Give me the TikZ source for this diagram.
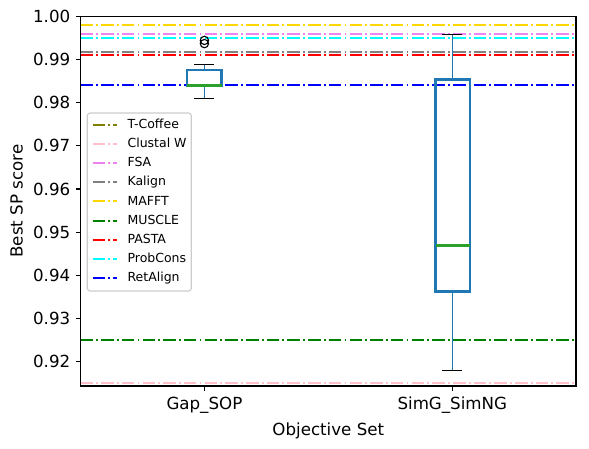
\documentclass[tikz,border=0pt]{standalone}
\usepackage{fontspec}
\setmainfont{DejaVu Sans}
\usepackage{tikz}

\definecolor{boxblue}{HTML}{1F77B4}
\definecolor{medgreen}{HTML}{2CA02C}
\definecolor{tcoffee}{HTML}{808000}
\definecolor{clustalw}{HTML}{FFC0CB}
\definecolor{fsa}{HTML}{EE82EE}
\definecolor{kalign}{HTML}{808080}
\definecolor{mafft}{HTML}{FFD700}
\definecolor{muscle}{HTML}{008000}
\definecolor{pasta}{HTML}{FF0000}
\definecolor{probcons}{HTML}{00FFFF}
\definecolor{retalign}{HTML}{0000FF}

\begin{document}
\begin{tikzpicture}[x=0.72pt, y=-0.72pt,
		ytick_label/.style={anchor=east,inner sep=0pt,font=\fontsize{12}{14}\selectfont},
		xtick_label/.style={anchor=north,inner sep=0pt,font=\fontsize{12}{14}\selectfont},
		axis_label/.style={anchor=base,inner sep=0pt,font=\fontsize{12}{14}\selectfont},
		legend_label/.style={anchor=base west,inner sep=0pt,font=\fontsize{9}{11}\selectfont},
		tick_style/.style={draw=black,line width=0.8pt},
		ref_style/.style={line width=1.3pt,dash pattern=on 9pt off 2.3pt on 1.3pt off 2.3pt},
		box_style/.style={draw=boxblue,line width=2pt},
		whisker_style/.style={draw=boxblue,line width=1pt},
		cap_style/.style={draw=black,line width=1pt},
		median_style/.style={draw=medgreen,line width=2pt},
		flier_style/.style={circle,draw=black,line width=0.8pt,minimum size=6pt,inner sep=0pt}]

		\useasboundingbox (0,0) rectangle (589,448);

		% reference lines of the other aligners
		\draw[ref_style,mafft]     (80.5,25)  -- (576,25);
		\draw[ref_style,fsa]       (80.5,34)  -- (576,34);
		\draw[ref_style,probcons]  (80.5,38)  -- (576,38);
		\draw[ref_style,kalign]    (80.5,52)  -- (576,52);
		\draw[ref_style,pasta]     (80.5,55)  -- (576,55);
		\draw[ref_style,retalign]  (80.5,85)  -- (576,85);
		\draw[ref_style,muscle]    (80.5,340) -- (576,340);
		\draw[ref_style,clustalw]  (80.5,383) -- (576,383);

		% box Gap_SOP
		\draw[whisker_style] (204.4,64.3) -- (204.4,70);
		\draw[whisker_style] (204.4,85.3) -- (204.4,98.3);
		\draw[cap_style] (194.4,64.3) -- (214.4,64.3);
		\draw[cap_style] (194.4,98.3) -- (214.4,98.3);
		\draw[box_style] (187,70) rectangle (221.8,85.3);
		\draw[median_style] (187,85.3) -- (221.8,85.3);
		\node[flier_style] (f0) at (204.4,40.4) {};
		\node[flier_style] (f1) at (204.4,43.6) {};

		% box SimG_SimNG
		\draw[whisker_style] (452.3,34.3) -- (452.3,79.3);
		\draw[whisker_style] (452.3,291.5) -- (452.3,370.4);
		\draw[cap_style] (442.3,34.3) -- (462.3,34.3);
		\draw[cap_style] (442.3,370.4) -- (462.3,370.4);
		\draw[box_style] (435.5,79.3) rectangle (469.9,291.5);
		\draw[median_style] (435.5,245.3) -- (469.9,245.3);

		% axes
		\draw[tick_style] (80.5,16.3) rectangle (576,386);

		\draw[tick_style] (75.6,16.3)  -- (80.5,16.3);
		\draw[tick_style] (75.6,59.5)  -- (80.5,59.5);
		\draw[tick_style] (75.6,102.6) -- (80.5,102.6);
		\draw[tick_style] (75.6,145.8) -- (80.5,145.8);
		\draw[tick_style] (75.6,189.0) -- (80.5,189.0);
		\draw[tick_style] (75.6,232.2) -- (80.5,232.2);
		\draw[tick_style] (75.6,275.3) -- (80.5,275.3);
		\draw[tick_style] (75.6,318.5) -- (80.5,318.5);
		\draw[tick_style] (75.6,361.7) -- (80.5,361.7);
		\draw[tick_style] (204.4,386) -- (204.4,390.9);
		\draw[tick_style] (452.3,386) -- (452.3,390.9);

		\node[ytick_label] (y0) at (70.5,16.3)  {1.00};
		\node[ytick_label] (y1) at (70.5,59.5)  {0.99};
		\node[ytick_label] (y2) at (70.5,102.6) {0.98};
		\node[ytick_label] (y3) at (70.5,145.8) {0.97};
		\node[ytick_label] (y4) at (70.5,189.0) {0.96};
		\node[ytick_label] (y5) at (70.5,232.2) {0.95};
		\node[ytick_label] (y6) at (70.5,275.3) {0.94};
		\node[ytick_label] (y7) at (70.5,318.5) {0.93};
		\node[ytick_label] (y8) at (70.5,361.7) {0.92};

		\node[xtick_label] (x0) at (204.4,397) {Gap\_SOP};
		\node[xtick_label] (x1) at (452.3,397) {SimG\_SimNG};

		\node[axis_label] (xlab) at (328.3,435) {Objective Set};
		\node[axis_label,rotate=90] (ylab) at (22.7,201.2) {Best SP score};

		% legend
		\draw[draw=black!20,fill=white,fill opacity=0.8,rounded corners=2pt,line width=0.8pt] (87.3,113) rectangle (191.3,291);
		\draw[ref_style,tcoffee]  (92.7,125) -- (117.3,125);
		\draw[ref_style,clustalw] (92.7,144) -- (117.3,144);
		\draw[ref_style,fsa]      (92.7,163) -- (117.3,163);
		\draw[ref_style,kalign]   (92.7,182) -- (117.3,182);
		\draw[ref_style,mafft]    (92.7,201) -- (117.3,201);
		\draw[ref_style,muscle]   (92.7,221) -- (117.3,221);
		\draw[ref_style,pasta]    (92.7,240) -- (117.3,240);
		\draw[ref_style,probcons] (92.7,259) -- (117.3,259);
		\draw[ref_style,retalign] (92.7,278) -- (117.3,278);
		\node[legend_label] (l0) at (127.3,128.3) {T-Coffee};
		\node[legend_label] (l1) at (127.3,147.5) {Clustal W};
		\node[legend_label] (l2) at (127.3,166.7) {FSA};
		\node[legend_label] (l3) at (127.3,185.9) {Kalign};
		\node[legend_label] (l4) at (127.3,205.1) {MAFFT};
		\node[legend_label] (l5) at (127.3,224.3) {MUSCLE};
		\node[legend_label] (l6) at (127.3,243.5) {PASTA};
		\node[legend_label] (l7) at (127.3,262.7) {ProbCons};
		\node[legend_label] (l8) at (127.3,281.9) {RetAlign};
\end{tikzpicture}
\end{document}
